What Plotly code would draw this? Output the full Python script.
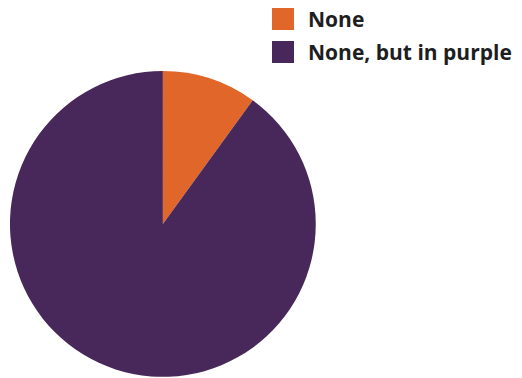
import plotly.graph_objects as go

# Slice data
labels = ["None", "None, but in purple"]
values = [10, 90]
colors = ["#E0662A", "#48285A"]

fig = go.Figure()
fig.add_trace(go.Pie(
    labels=labels,
    values=values,
    marker=dict(colors=colors, line=dict(width=0)),
    sort=False,
    direction="clockwise",
    rotation=0,
    textinfo="none",
    showlegend=False,
    domain=dict(x=[0.019, 0.605], y=[0.003, 0.812]),
))

# Legend drawn as large swatches with labels
W, H = 522, 378
sw_x0, sw_size = 272, 22
row_y = [19, 52]
for lab, col, yc in zip(labels, colors, row_y):
    fig.add_shape(
        type="rect", xref="paper", yref="paper",
        x0=sw_x0 / W, x1=(sw_x0 + sw_size) / W,
        y0=1 - (yc + sw_size / 2) / H, y1=1 - (yc - sw_size / 2) / H,
        fillcolor=col, line=dict(width=0),
    )
    fig.add_annotation(
        text=f"<b>{lab}</b>", xref="paper", yref="paper",
        x=(sw_x0 + sw_size + 12) / W, y=1 - yc / H,
        xanchor="left", yanchor="middle", showarrow=False,
        font=dict(family="Open Sans", size=21, color="#1E1E1E"),
    )

fig.update_layout(
    width=W, height=H,
    margin=dict(l=0, r=0, t=0, b=0),
    paper_bgcolor="white",
    plot_bgcolor="white",
)

fig.write_html("out.html")
